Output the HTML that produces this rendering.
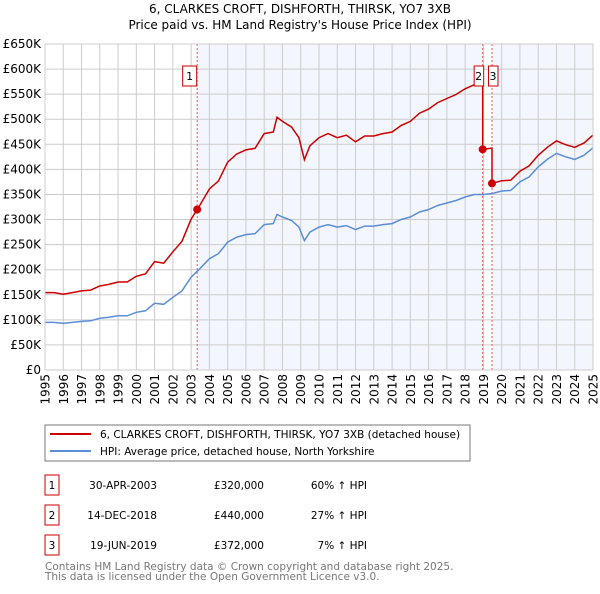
<!DOCTYPE html>
<html><head><meta charset="utf-8"><style>
body{margin:0;background:#fff;width:600px;height:590px;overflow:hidden;font-family:"DejaVu Sans","Liberation Sans",sans-serif}
</style></head><body>
<svg id="c" width="600" height="590" xmlns="http://www.w3.org/2000/svg" font-family="DejaVu Sans, Liberation Sans, sans-serif">
<text x="300" y="13" text-anchor="middle" font-size="12">6, CLARKES CROFT, DISHFORTH, THIRSK, YO7 3XB</text>
<text x="300" y="29" text-anchor="middle" font-size="12">Price paid vs. HM Land Registry's House Price Index (HPI)</text>
<g id="plot"></g>
<rect x="45" y="425" width="425" height="36" fill="#fff" stroke="#777"/>
<line x1="50" y1="434" x2="91" y2="434" stroke="#cc0000" stroke-width="2"/>
<text x="100" y="438" font-size="10.5">6, CLARKES CROFT, DISHFORTH, THIRSK, YO7 3XB (detached house)</text>
<line x1="50" y1="451" x2="91" y2="451" stroke="#5b8ed6" stroke-width="2"/>
<text x="100" y="455" font-size="10.5">HPI: Average price, detached house, North Yorkshire</text>
<g id="tbl" font-size="10.5"></g>
<text x="45" y="570" font-size="10.5" fill="#777">Contains HM Land Registry data © Crown copyright and database right 2025.</text>
<text x="45" y="580" font-size="10.5" fill="#777">This data is licensed under the Open Government Licence v3.0.</text>
</svg>
<script>
const hpiYears=[1995,1995.5,1996,1996.5,1997,1997.5,1998,1998.5,1999,1999.5,2000,2000.5,2001,2001.5,2002,2002.5,2003,2003.5,2004,2004.5,2005,2005.5,2006,2006.5,2007,2007.5,2007.7,2008,2008.5,2008.9,2009.2,2009.5,2010,2010.5,2011,2011.5,2012,2012.5,2013,2013.5,2014,2014.5,2015,2015.5,2016,2016.5,2017,2017.5,2018,2018.5,2019,2019.5,2020,2020.5,2021,2021.5,2022,2022.5,2023,2023.5,2024,2024.5,2025];
const hpiValues=[95000,95000,93000,95000,97000,98000,103000,105000,108000,108000,115000,118000,133000,131000,145000,158000,185000,203000,222000,232000,255000,265000,270000,272000,290000,292000,310000,305000,298000,285000,258000,275000,285000,290000,285000,288000,280000,287000,287000,290000,292000,300000,305000,315000,320000,328000,333000,338000,345000,350000,350000,352000,357000,358000,375000,385000,405000,420000,432000,425000,420000,428000,443000];
const saleDates=[2003.33,2018.96,2019.47];
const salePrices=[320000,440000,372000];
const saleLabels=["1","2","3"];
const saleDateText=["30-APR-2003","14-DEC-2018","19-JUN-2019"];
const salePriceText=["£320,000","£440,000","£372,000"];
const saleHpiText=["60% ↑ HPI","27% ↑ HPI","7% ↑ HPI"];
const yTicks=[0,50000,100000,150000,200000,250000,300000,350000,400000,450000,500000,550000,600000,650000];
const yTickLabels=["£0","£50K","£100K","£150K","£200K","£250K","£300K","£350K","£400K","£450K","£500K","£550K","£600K","£650K"];
const xYears=[1995,1996,1997,1998,1999,2000,2001,2002,2003,2004,2005,2006,2007,2008,2009,2010,2011,2012,2013,2014,2015,2016,2017,2018,2019,2020,2021,2022,2023,2024,2025];

const X0=45,X1=593,Y0=370,Y1=44;
const xs=t=>X0+(t-1995)/30*(X1-X0);
const ys=v=>Y0-v/650000*(Y0-Y1);
const NS="http://www.w3.org/2000/svg";
const plot=document.getElementById('plot');
function mk(tag,attrs,parent){const e=document.createElementNS(NS,tag);for(const k in attrs)e.setAttribute(k,attrs[k]);(parent||plot).appendChild(e);return e;}
function hpiAt(t){for(let i=0;i<hpiYears.length-1;i++){if(t<=hpiYears[i+1]){const f=(t-hpiYears[i])/(hpiYears[i+1]-hpiYears[i]);return hpiValues[i]+f*(hpiValues[i+1]-hpiValues[i]);}}return hpiValues[hpiValues.length-1];}

let s1=mk('rect',{x:xs(saleDates[0]),y:Y1,width:xs(saleDates[1])-xs(saleDates[0]),height:Y0-Y1,fill:'#eef2fc',opacity:0.7});


let s2=mk('rect',{x:xs(saleDates[2]),y:Y1,width:X1-xs(saleDates[2]),height:Y0-Y1,fill:'#eef2fc',opacity:0.7});


yTicks.forEach((v,i)=>{
 let l=mk('line',{x1:X0,x2:X1,y1:ys(v),y2:ys(v),stroke:'#ccc','stroke-width':1});
 
 
 let t=mk('text',{x:X0-4,y:ys(v)+4,'text-anchor':'end','font-size':12});
 
 
 t.textContent=yTickLabels[i];
});
xYears.forEach(yr=>{
 let l=mk('line',{x1:xs(yr),x2:xs(yr),y1:Y1,y2:Y0,stroke:'#ccc','stroke-width':1});
 
 
 let t=mk('text',{x:0,y:0,'text-anchor':'end','font-size':12,transform:`translate(${xs(yr)+4.5},374) rotate(-90)`});
 
 
 t.textContent=yr;
});
saleDates.forEach((d,i)=>{
 let l=mk('line',{x1:xs(d),x2:xs(d),y1:Y1,y2:Y0,stroke:'#e55','stroke-width':1,'stroke-dasharray':'2,2'});
 
 
});
let pts=hpiYears.map((t,i)=>xs(t).toFixed(1)+','+ys(hpiValues[i]).toFixed(1)).join(' ');
let hl=mk('polyline',{points:pts,fill:'none',stroke:'#5b8ed6','stroke-width':1.5});


let rp=[];
const tsAll=[...hpiYears,...saleDates].sort((a,b)=>a-b);
for(const t of tsAll){
 let k=0;for(let j=0;j<saleDates.length;j++)if(t>=saleDates[j])k=j;
 if(t===saleDates[1]||t===saleDates[2]){const kp=k-1;rp.push([t,salePrices[kp]*hpiAt(t)/hpiAt(saleDates[kp])]);}
 rp.push([t,salePrices[k]*hpiAt(t)/hpiAt(saleDates[k])]);
}
let rl=mk('polyline',{points:rp.map(p=>xs(p[0]).toFixed(1)+','+ys(p[1]).toFixed(1)).join(' '),fill:'none',stroke:'#cc0000','stroke-width':1.5});


saleDates.forEach((d,i)=>{
 let c=mk('circle',{cx:xs(d),cy:ys(salePrices[i]),r:4,fill:'#cc0000'});
 
 
});
const lx=[xs(saleDates[0])-10,xs(saleDates[1])-4,xs(saleDates[2])+1];
saleLabels.forEach((s,i)=>{
 let r=mk('rect',{x:lx[i]-4.5,y:66,width:i==0?14:9.5,height:20,fill:'#fff',stroke:'#cc0000'});
 
 
 let t=mk('text',{x:lx[i]+(i==0?2.5:0),y:80,'text-anchor':'middle','font-size':11});
 
 
 t.textContent=s;
});
let ax=mk('rect',{x:X0,y:Y1,width:X1-X0,height:Y0-Y1,fill:'none',stroke:'#ccc'});


const tbl=document.getElementById('tbl');
saleLabels.forEach((s,i)=>{
 const y=475+i*30;
 let r=mk('rect',{x:45,y:y,width:14,height:20,fill:'#fff',stroke:'#cc0000'},tbl);
 
 
 let t=mk('text',{x:52,y:y+14,'text-anchor':'middle'},tbl);t.textContent=s;
 
 
 let d=mk('text',{x:157,y:y+14,'text-anchor':'end'},tbl);d.textContent=saleDateText[i];
 
 
 let p=mk('text',{x:264,y:y+14,'text-anchor':'end'},tbl);p.textContent=salePriceText[i];
 
 
 let h=mk('text',{x:367,y:y+14,'text-anchor':'end'},tbl);h.textContent=saleHpiText[i];
 
 
});
</script>
</body></html>
